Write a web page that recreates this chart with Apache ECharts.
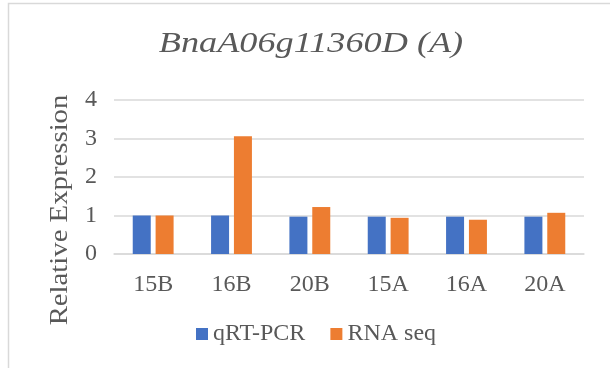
<!DOCTYPE html>
<html><head><meta charset="utf-8">
<script src="https://cdn.jsdelivr.net/npm/echarts@6/dist/echarts.min.js"></script>
<style>html,body{margin:0;padding:0;background:#fff}#c{width:610px;height:368px}</style>
</head><body><div id="c"></div>
<script>
const categories = ['15B','16B','20B','15A','16A','20A'];
const qrtpcr = [1.0, 1.0, 0.97, 0.97, 0.97, 0.97];
const rnaseq = [1.0, 3.06, 1.22, 0.94, 0.89, 1.07];
const yTicks = [0, 1, 2, 3, 4];
const titleText = 'BnaA06g11360D (A)';
const yName = 'Relative Expression';

const chart = echarts.init(document.getElementById('c'), null, {renderer:'canvas'});
const font = 'Liberation Serif';
chart.setOption({
  animation: false,
  backgroundColor: '#fff',
  graphic: [
    {type:'rect', shape:{x:8.5, y:3.5, width:700, height:500}, style:{fill:'none', stroke:'#d9d9d9', lineWidth:1.5}, silent:true},
    {type:'text', x:311, y:44, scaleX:1.25, style:{text:titleText, font:'italic 29px "Liberation Serif"', fill:'#595959', align:'center', verticalAlign:'middle'}},
    {type:'text', x:60, y:210, rotation:Math.PI/2, scaleX:1.15, style:{text:yName, font:'25px "Liberation Serif"', fill:'#595959', align:'center', verticalAlign:'middle'}}
  ],
  legend: {
    data: ['qRT-PCR','RNA seq'], left: 191, top: 317, padding: 5, itemWidth: 12, itemHeight: 12, itemGap: 25,
    icon: 'rect', textStyle: {fontFamily: font, fontSize: 24, color: '#595959'}
  },
  grid: {left: 114, right: 26, top: 100, bottom: 114, containLabel: false},
  xAxis: {
    type: 'category', data: categories,
    axisLine: {show: true, lineStyle: {color: '#d9d9d9', width: 1.5}},
    axisTick: {show: false},
    axisLabel: {fontFamily: font, fontSize: 24, color: '#595959', margin: 19}
  },
  yAxis: {
    type: 'value', min: yTicks[0], max: yTicks[yTicks.length-1], interval: 1,
    axisLine: {show: false}, axisTick: {show: false},
    splitLine: {lineStyle: {color: '#d9d9d9', width: 1.5}},
    axisLabel: {fontFamily: font, fontSize: 24, color: '#595959', margin: 17}
  },
  series: [
    {name: 'qRT-PCR', type: 'bar', data: qrtpcr, barWidth: 18, barGap: '27%', itemStyle: {color: '#4472c4'}},
    {name: 'RNA seq', type: 'bar', data: rnaseq, barWidth: 18, itemStyle: {color: '#ed7d31'}}
  ]
});
</script></body></html>
